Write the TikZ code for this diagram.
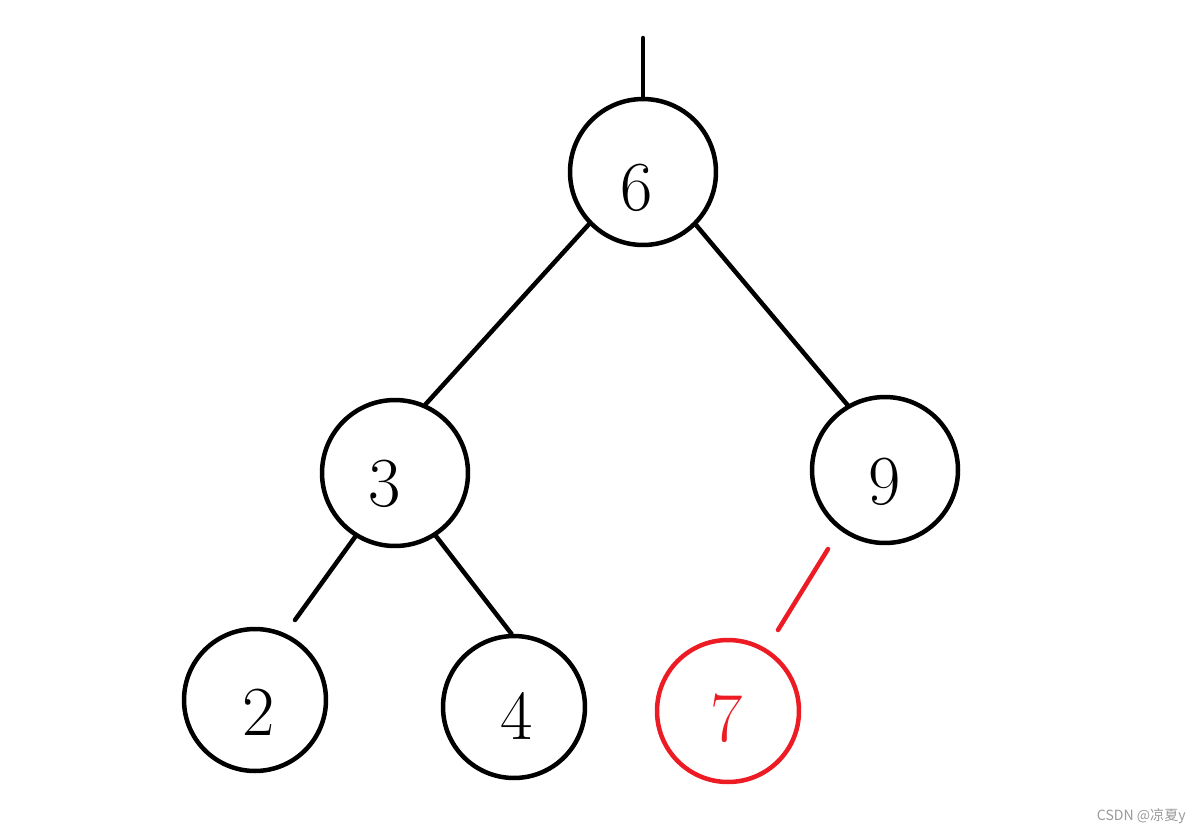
\documentclass[tikz,border=0pt]{standalone}
\usepackage{fontspec}
\newfontfamily\cjkfont{Noto Sans CJK SC}
\usetikzlibrary{calc}
\definecolor{insertred}{HTML}{ED1C24}
\definecolor{markgray}{HTML}{9A9A9A}

\begin{document}
\begin{tikzpicture}[
    x=0.02cm, y=-0.02cm,
    line cap=round,
    line join=round,
    vertex/.style={circle, draw=black, line width=0.09cm, minimum size=2.92cm, inner sep=0pt},
    leaf/.style={vertex, minimum size=2.84cm},
    digit/.style={font=\fontsize{40}{40}\selectfont, inner sep=0pt},
    edge/.style={black, line width=0.09cm}
]

% Canvas
\useasboundingbox (0,0) rectangle (1202,832);

% Tree nodes
\node[vertex] (n6) at (643,172) {};
\node[vertex] (n3) at (395,473) {};
\node[vertex] (n9) at (885,470) {};
\node[leaf] (n2) at (255,700) {};
\node[leaf] (n4) at (514,707) {};
\node[leaf, draw=insertred] (n7) at (728,711) {};

% Keys
\node[digit] (d6) at (637,188) {6};
\node[digit] (d3) at (385,484) {3};
\node[digit] (d9) at (885,482) {9};
\node[digit] (d2) at (259,712) {2};
\node[digit] (d4) at (517,716) {4};
\node[digit, text=insertred] (d7) at (727,718) {7};

% Free ends
\coordinate (top) at (643,38);
\coordinate (c2) at (295,620);
\coordinate (c9) at (828,549);
\coordinate (c7) at (778,630);

% Edges
\draw[edge] (top) -- (n6.north);
\draw[edge] (n6.224) -- (n3.66);
\draw[edge] (n6.-45) -- (n9.120);
\draw[edge] (n3.-122) -- (c2);
\draw[edge] (n3.-57) -- (n4.92);
\draw[edge, insertred] (c9) -- (c7);

% Watermark
\node[anchor=east, font=\cjkfont\fontsize{8}{9}\selectfont, text=markgray, inner sep=0pt] (mark) at (1186,816) {CSDN @凉夏y};

\end{tikzpicture}
\end{document}
